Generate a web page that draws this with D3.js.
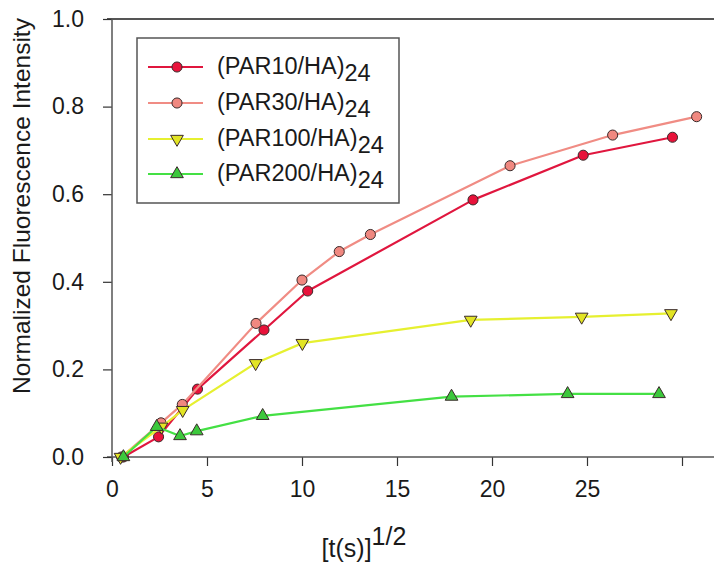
<!DOCTYPE html>
<html>
<head>
<meta charset="utf-8">
<script src="https://cdn.jsdelivr.net/npm/d3@7"></script>
<style>
  html, body { margin: 0; padding: 0; background: #fff; }
  svg { display: block; font-family: "Liberation Sans", Arial, sans-serif; }
</style>
</head>
<body>
<svg id="chart" width="714" height="572"></svg>
<script>
// ---- data ----
const seriesNames = ["(PAR10/HA)", "(PAR30/HA)", "(PAR100/HA)", "(PAR200/HA)"];
const seriesSub = "24";
const par10 = [[0.6,0],[2.45,0.046],[4.5,0.155],[8.0,0.29],[10.3,0.379],[19.0,0.587],[24.8,0.689],[29.5,0.73]];
const par30 = [[0.5,0],[2.58,0.078],[3.7,0.12],[7.58,0.305],[10.0,0.404],[11.96,0.469],[13.6,0.508],[20.95,0.665],[26.35,0.735],[30.77,0.777]];
const par100 = [[0.45,0],[2.6,0.069],[3.72,0.107],[7.56,0.214],[10.02,0.26],[18.88,0.313],[24.72,0.32],[29.42,0.328]];
const par200 = [[0.6,0],[2.35,0.069],[3.58,0.048],[4.46,0.059],[7.93,0.094],[17.87,0.138],[23.98,0.144],[28.79,0.144]];
const xTicks = [0, 5, 10, 15, 20, 25, 30];
const xTickLabels = ["0", "5", "10", "15", "20", "25", ""];
const yTicks = [0, 0.2, 0.4, 0.6, 0.8, 1.0];
const yTickLabels = ["0.0", "0.2", "0.4", "0.6", "0.8", "1.0"];
const yTitle = "Normalized Fluorescence Intensity";
const xTitleMain = "[t(s)]";
const xTitleSup = "1/2";

const styles = [
  { line: "#e0163e", fill: "#e8123a", sym: "circle" },
  { line: "#f08c84", fill: "#f08880", sym: "circle" },
  { line: "#e6f030", fill: "#e2e424", sym: "down" },
  { line: "#44e044", fill: "#3cc83c", sym: "up" }
];
const allSeries = [par10, par30, par100, par200];

const svg = d3.select("#chart");
const x = d3.scaleLinear().domain([0, 35]).range([112, 112 + 35 * 19]);
const y = d3.scaleLinear().domain([0, 1]).range([457, 19]);
const frame = "#555";

// top frame line
svg.append("line").attr("x1", 107).attr("x2", 714).attr("y1", y(1)).attr("y2", y(1))
  .attr("stroke", frame).attr("stroke-width", 2);

// x axis
const xAxis = d3.axisBottom(x).tickValues(xTicks)
  .tickFormat((d, i) => xTickLabels[i]).tickSize(9).tickSizeOuter(0);
const gx = svg.append("g").attr("transform", `translate(0,${y(0)})`).call(xAxis);
gx.select(".domain").remove();
gx.append("line").attr("x1", 107).attr("x2", 714).attr("y1", 0).attr("y2", 0)
  .attr("stroke", frame).attr("stroke-width", 1.5);
gx.selectAll(".tick line").attr("stroke", "#333").attr("stroke-width", 1.2);
gx.selectAll(".tick text").attr("fill", "#1a1a1a").attr("font-size", 23)
  .attr("font-family", "Liberation Sans, Arial, sans-serif").attr("dy", "1.2em");

// y axis
const yAxis = d3.axisLeft(y).tickValues(yTicks)
  .tickFormat((d, i) => yTickLabels[i]).tickSize(9).tickSizeOuter(0).tickPadding(19);
const gy = svg.append("g").attr("transform", `translate(${x(0)},0)`).call(yAxis);
gy.select(".domain").remove();
gy.append("line").attr("x1", 0).attr("x2", 0).attr("y1", y(1)).attr("y2", y(0) + 5)
  .attr("stroke", frame).attr("stroke-width", 1.5);
gy.selectAll(".tick line").attr("stroke", "#333").attr("stroke-width", 1.2);
gy.selectAll(".tick text").attr("fill", "#1a1a1a").attr("font-size", 23)
  .attr("font-family", "Liberation Sans, Arial, sans-serif");

// axis titles
svg.append("text").attr("transform", `translate(30,${(20 + 392) / 2}) rotate(-90)`)
  .attr("text-anchor", "middle").attr("font-size", 24.5).attr("fill", "#1a1a1a").text(yTitle);
const xt = svg.append("text").attr("x", 364).attr("y", 557).attr("text-anchor", "middle")
  .attr("font-size", 25).attr("fill", "#1a1a1a");
xt.append("tspan").text(xTitleMain);
xt.append("tspan").attr("dy", -12).text(xTitleSup);

// symbols
function symPath(kind) {
  if (kind === "circle") return d3.symbol(d3.symbolCircle, 80)();
  return d3.symbol(d3.symbolTriangle, 70)();
}
function drawMarker(g, kind, cx, cy, st) {
  const p = g.append("path").attr("d", symPath(kind))
    .attr("fill", st.fill).attr("stroke", "#3a2a2a").attr("stroke-width", 1);
  if (kind === "down") p.attr("transform", `translate(${cx},${cy}) rotate(180)`);
  else p.attr("transform", `translate(${cx},${cy})`);
}

const line = d3.line().x(d => x(d[0])).y(d => y(d[1]));
const plot = svg.append("g");
allSeries.forEach((data, i) => {
  const st = styles[i];
  const g = plot.append("g");
  g.append("path").datum(data).attr("d", line).attr("fill", "none")
    .attr("stroke", st.line).attr("stroke-width", 2.2).attr("stroke-linejoin", "round");
  data.forEach(d => drawMarker(g, st.sym, x(d[0]), y(d[1]), st));
});

// legend
const lg = svg.append("g");
lg.append("rect").attr("x", 137).attr("y", 38).attr("width", 262).attr("height", 165)
  .attr("fill", "#fff").attr("stroke", frame).attr("stroke-width", 1.5);
const rowsY = [67, 103, 139, 174];
seriesNames.forEach((name, i) => {
  const st = styles[i];
  const ry = rowsY[i];
  lg.append("line").attr("x1", 148).attr("x2", 203).attr("y1", ry).attr("y2", ry)
    .attr("stroke", st.line).attr("stroke-width", 2.2);
  drawMarker(lg, st.sym, 177, ry, st);
  const t = lg.append("text").attr("x", 217).attr("y", ry + 7).attr("font-size", 23.5)
    .attr("fill", "#1a1a1a");
  t.append("tspan").text(name);
  t.append("tspan").attr("dy", 7).text(seriesSub);
});
</script>
</body>
</html>
